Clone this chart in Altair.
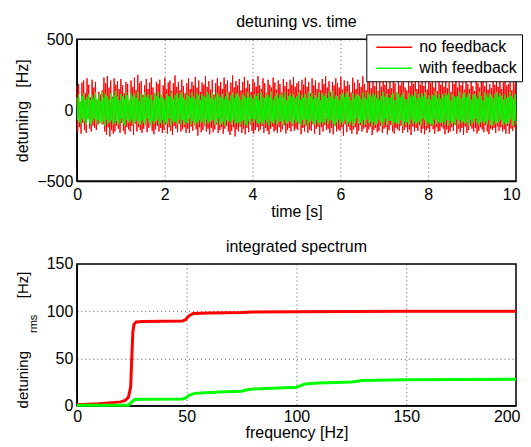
import altair as alt
import pandas as pd
import numpy as np

FONT = "Liberation Sans"

# ---- top panel: detuning vs. time ----
red_noise = [
    170, -150, 185, -120, 60, -165, 195, -90, 210, -140,
    120, -160, 225, -60, 180, -130, 90, -150, 215, -110,
    160, -125, 200, -140, 70, -100, 130, -90, 110, -70,
    140, -100, 230, -150, 190, -175, 240, -120, 160, -185,
    210, -140, 95, -165, 225, -150, 180, -110, 205, -130,
    150, -160, 220, -90, 175, -145, 120, -170, 200, -120,
    185, -135, 60, -150, 210, -110, 165, -175, 230, -95,
    140, -150, 250, -120, 190, -140, 205, -160, 110, -130,
    175, -105, 220, -155, 150, -125, 195, -90, 230, -145,
    160, -170, 120, -135, 200, -110, 185, -150, 215, -125,
    95, -160, 175, -140, 230, -100, 150, -165, 195, -120,
    210, -145, 135, -175, 190, -110, 245, -130, 165, -155,
    200, -95, 140, -150, 215, -135, 170, -120, 120, -160,
    190, -130, 225, -160, 150, -115, 200, -145, 175, -105,
    235, -135, 160, -180, 210, -120, 130, -155, 195, -140,
    180, -110, 240, -150, 165, -130, 205, -170, 145, -125,
    215, -155, 110, -135, 190, -100, 225, -160, 170, -140,
    200, -120, 150, -165, 230, -130, 185, -110, 210, -150,
    130, -175, 195, -145, 245, -120, 160, -185, 205, -135,
    175, -150, 220, -115, 140, -160, 200, -130, 235, -170,
    155, -125, 210, -155, 185, -100, 130, -145, 220, -165,
    195, -140, 165, -120, 240, -150, 175, -135, 150, -110,
    225, -160, 190, -125, 120, -145, 215, -170, 180, -130,
    160, -115, 230, -150, 195, -140, 145, -160, 210, -120,
    185, -155, 125, -135, 220, -105, 170, -165, 200, -140,
    150, -125, 215, -150, 180, -110, 235, -145, 165, -130,
    190, -140, 205, -95, 140, -170, 215, -125, 180, -150,
    230, -110, 165, -160, 200, -135, 120, -145, 225, -100,
    175, -165, 210, -130, 150, -115, 195, -175, 140, -120,
    220, -150, 185, -105, 240, -140, 160, -130, 205, -160,
    130, -125, 200, -170, 175, -110, 225, -150, 190, -135,
    160, -145, 235, -120, 145, -180, 210, -100, 170, -155,
    205, -115, 180, -140, 125, -165, 230, -135, 195, -120,
    150, -170, 215, -145, 190, -105, 165, -150, 240, -130,
    185, -120, 140, -160, 220, -135, 200, -115, 155, -175,
    225, -140, 170, -125, 205, -155, 135, -145, 215, -110,
    165, -160, 245, -130, 180, -120, 210, -170, 150, -140,
    200, -105, 155, -150, 230, -165, 190, -125, 120, -135,
    215, -145, 175, -110, 195, -160, 240, -140, 160, -120,
    140, -155, 225, -135, 170, -175, 205, -115, 185, -150,
    235, -125, 150, -145, 210, -105, 180, -160, 220, -130,
    170, -170, 200, -140, 145, -125, 230, -155, 190, -110,
    210, -135, 160, -165, 225, -120, 135, -150, 205, -145,
    180, -115, 240, -130, 165, -170, 215, -135, 155, -160,
    195, -150, 130, -120, 220, -145, 185, -105, 235, -165,
    160, -130, 210, -155, 175, -125, 200, -175, 145, -115,
    225, -160, 185, -140, 150, -110, 240, -130, 170, -150,
    135, -125, 205, -165, 190, -145, 160, -120, 215, -135,
    200, -155, 170, -105, 230, -150, 145, -170, 185, -130,
    155, -140, 220, -125, 180, -160, 210, -115, 165, -145,
    240, -120, 150, -150, 195, -135, 225, -165, 175, -110,
    185, -165, 205, -130, 140, -145, 230, -120, 190, -150,
]
green_noise = [
    90, -70, 110, -85, 60, -95, 100, -60, 120, -80,
    75, -100, 95, -65, 115, -90, 70, -105, 105, -75,
    85, -60, 125, -95, 80, -70, 110, -85, 65, -100,
    130, -80, 90, -110, 115, -65, 100, -95, 75, -85,
    120, -70, 85, -100, 105, -90, 135, -75, 95, -105,
    70, -85, 115, -60, 100, -95, 80, -110, 125, -70,
    105, -90, 75, -80, 120, -65, 95, -100, 110, -85,
    85, -75, 130, -95, 65, -105, 115, -70, 90, -90,
    125, -100, 95, -60, 110, -85, 80, -110, 105, -75,
    70, -95, 120, -80, 100, -65, 130, -100, 85, -90,
    110, -70, 90, -105, 75, -85, 115, -95, 100, -60,
    95, -110, 125, -75, 80, -90, 105, -80, 120, -100,
    85, -65, 110, -95, 130, -70, 90, -105, 75, -85,
    115, -90, 100, -60, 85, -100, 125, -75, 95, -110,
    80, -85, 120, -95, 105, -70, 70, -90, 115, -80,
    100, -105, 90, -65, 130, -95, 110, -85, 85, -75,
    125, -70, 75, -100, 95, -90, 120, -60, 105, -105,
    90, -95, 115, -80, 80, -110, 100, -70, 130, -85,
    70, -75, 105, -100, 125, -65, 85, -95, 110, -90,
    120, -85, 95, -105, 75, -80, 115, -70, 100, -100,
    85, -110, 130, -75, 90, -95, 105, -60, 80, -85,
    110, -65, 100, -90, 120, -100, 70, -80, 125, -95,
    95, -100, 85, -70, 115, -85, 105, -110, 90, -75,
    130, -90, 75, -95, 100, -65, 120, -100, 85, -80,
    105, -80, 115, -105, 90, -70, 125, -90, 70, -95,
    100, -75, 120, -85, 95, -100, 110, -65, 85, -90,
    100, -80, 125, -95, 75, -105, 110, -70, 90, -100,
    115, -65, 85, -110, 130, -85, 95, -75, 120, -95,
    80, -100, 105, -70, 90, -90, 125, -105, 70, -80,
    120, -95, 100, -85, 115, -60, 85, -100, 130, -75,
    95, -70, 135, -95, 80, -110, 105, -85, 100, -65,
    75, -105, 110, -80, 125, -95, 90, -70, 115, -100,
    130, -85, 95, -100, 70, -75, 120, -110, 85, -90,
    105, -60, 115, -95, 100, -85, 80, -105, 125, -70,
    90, -100, 75, -65, 130, -90, 110, -80, 95, -110,
    120, -80, 105, -100, 85, -95, 125, -70, 75, -85,
    100, -110, 130, -85, 95, -60, 115, -100, 90, -75,
    85, -75, 110, -105, 120, -90, 70, -85, 130, -95,
    115, -95, 90, -70, 105, -110, 125, -80, 80, -100,
    75, -85, 120, -100, 95, -65, 110, -95, 100, -80,
    130, -100, 85, -90, 115, -75, 90, -105, 120, -60,
    95, -70, 125, -110, 80, -85, 105, -95, 75, -100,
    110, -105, 100, -65, 130, -95, 85, -80, 115, -90,
    80, -90, 115, -80, 95, -100, 120, -70, 105, -110,
    125, -75, 70, -95, 110, -85, 100, -105, 90, -65,
    100, -100, 130, -70, 85, -90, 115, -80, 125, -95,
    90, -85, 105, -110, 120, -65, 75, -100, 110, -85,
    115, -60, 95, -90, 80, -105, 130, -85, 100, -75,
    70, -95, 125, -80, 105, -100, 90, -70, 120, -105,
    105, -110, 85, -75, 115, -95, 125, -90, 95, -80,
    120, -70, 100, -105, 75, -85, 110, -100, 85, -95,
    95, -90, 130, -65, 100, -110, 80, -75, 115, -100,
]
time_s = np.linspace(0, 10, len(red_noise))

# ---- bottom panel: integrated spectrum ----
red_freq = [0, 10, 20, 22, 23.5, 24.5, 25, 25.5, 26, 27, 30, 48, 49.5, 51, 53, 60, 75, 80, 100, 150, 200]
red_rms = [1, 2, 4, 5.5, 9, 20, 50, 78, 86, 88.5, 89, 89.5, 91, 95, 97.5, 98, 98.5, 99, 99.5, 99.8, 100]
green_freq = [0, 23.5, 25, 26.4, 30, 48, 49.5, 51, 53.6, 65, 75, 77, 80, 100, 101, 104, 110, 125, 130, 150, 200]
green_rms = [0.3, 0.5, 4, 6.5, 6.7, 7, 8, 11, 13, 14.5, 15.2, 16.5, 17.5, 19.5, 20.5, 23, 24, 25, 26.5, 27.5, 28]

series = ["no feedback", "with feedback"]
colors = ["#ff0000", "#00ff00"]

df_time = pd.concat([
    pd.DataFrame({"t": time_s, "d": red_noise, "s": series[0], "o": 0}),
    pd.DataFrame({"t": time_s, "d": green_noise, "s": series[1], "o": 1}),
])
df_spec = pd.concat([
    pd.DataFrame({"f": red_freq, "v": red_rms, "s": series[0]}),
    pd.DataFrame({"f": green_freq, "v": green_rms, "s": series[1]}),
])

color = alt.Color(
    "s:N",
    scale=alt.Scale(domain=series, range=colors),
    legend=alt.Legend(
        title=None, orient="none", legendX=290, legendY=-5,
        symbolType="stroke", symbolSize=1296, symbolStrokeWidth=1.5, clipHeight=16,
        symbolOffset=4,
        labelFont=FONT, labelFontSize=16, labelColor="black", labelOffset=6,
        fillColor="white", strokeColor="black", padding=5,
        rowPadding=5,
    ),
)

top = alt.Chart(df_time).mark_line(strokeWidth=1).encode(
    x=alt.X("t:Q", scale=alt.Scale(domain=[0, 10], nice=False),
            axis=alt.Axis(values=[0, 2, 4, 6, 8, 10], title="time [s]",
                          labelPadding=5, titlePadding=1,
                          labelFlush=True, labelFlushOffset=4)),
    y=alt.Y("d:Q", scale=alt.Scale(domain=[-500, 500], nice=False),
            axis=alt.Axis(values=[-500, 0, 500], title="detuning\u00a0\u00a0\u00a0[Hz]")),
    color=color,
    order="o:Q",
).properties(width=440, height=142, title="detuning vs. time")

spec_line = alt.Chart(df_spec).mark_line(strokeWidth=3).encode(
    x=alt.X("f:Q", scale=alt.Scale(domain=[0, 200], nice=False),
            axis=alt.Axis(values=[0, 50, 100, 150, 200], title="frequency [Hz]",
                          labelPadding=3, titlePadding=0,
                          labelFlush=True, labelFlushOffset=4)),
    y=alt.Y("v:Q", scale=alt.Scale(domain=[0, 150], nice=False),
            axis=alt.Axis(values=[0, 50, 100, 150], title=None)),
    color=alt.Color("s:N", scale=alt.Scale(domain=series, range=colors), legend=None),
)

one = pd.DataFrame({"k": [0]})
lab1 = alt.Chart(one).mark_text(text="detuning", angle=270, font=FONT, fontSize=15,
                                align="center", baseline="middle", color="black").encode(
    x=alt.value(-54), y=alt.value(116))
lab2 = alt.Chart(one).mark_text(text="rms", angle=270, font=FONT, fontSize=11,
                                align="center", baseline="middle", color="black").encode(
    x=alt.value(-43), y=alt.value(60))
lab3 = alt.Chart(one).mark_text(text="[Hz]", angle=270, font=FONT, fontSize=15,
                                align="center", baseline="middle", color="black").encode(
    x=alt.value(-54), y=alt.value(21))

bottom = alt.layer(spec_line, lab1, lab2, lab3).properties(
    width=440, height=142, title="integrated spectrum")

chart = alt.vconcat(top, bottom, spacing=18).configure(
    font=FONT, padding={"left": 6, "top": 5, "right": 0, "bottom": 0}
).configure_axis(
    labelFont=FONT, labelFontSize=16, labelColor="black",
    titleFont=FONT, titleFontSize=16, titleFontWeight="normal", titleColor="black",
    domainColor="black", domainWidth=1.2, ticks=False, tickSize=0,
    grid=True, gridColor="#333333", gridDash=[1, 3], gridOpacity=0.8,
).configure_axisY(titlePadding=6, labelPadding=4).configure_view(
    stroke="black", strokeWidth=1.5
).configure_title(
    font=FONT, fontSize=16, fontWeight="normal", color="black", offset=1
)

chart.save("out.html", embed_options={"renderer": "svg", "actions": False})
